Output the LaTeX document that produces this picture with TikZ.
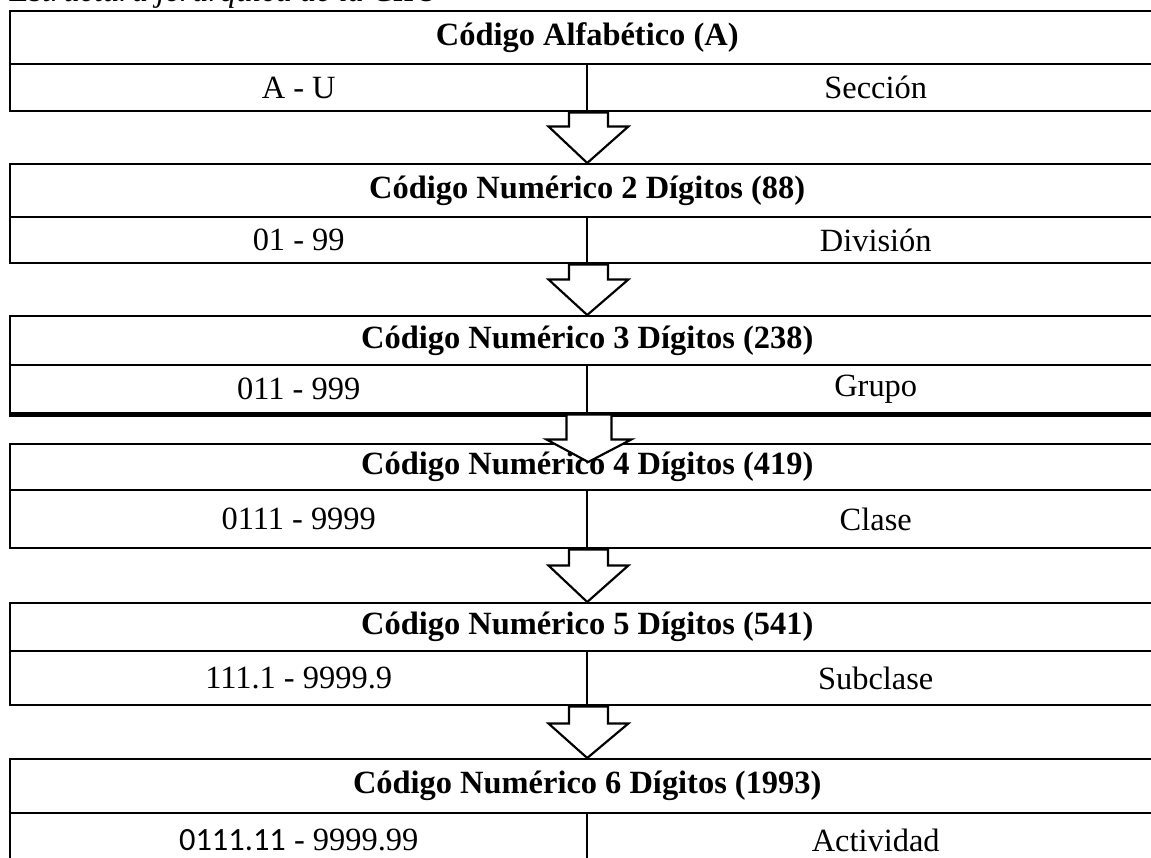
\documentclass[tikz,border=0pt]{standalone}
\usepackage{fontspec}
\setmainfont{Liberation Serif}
\newfontfamily\calibri{Carlito}
\usetikzlibrary{calc}
\newlength\pxu
\setlength\pxu{0.37pt}

\begin{document}
\begin{tikzpicture}[x=0.37pt, y=-0.37pt,
		every node/.style={font=\fontsize{12pt}{14pt}\selectfont, inner sep=0pt},
		titulo/.style={draw, line width=0.9pt, anchor=north west, minimum width=1154*\pxu, font=\fontsize{12pt}{14pt}\selectfont\bfseries},
		celda/.style={draw, line width=0.9pt, anchor=north west, minimum width=577*\pxu},
		flecha/.style={draw, fill=white, line width=0.8pt, line join=miter}]
				\useasboundingbox (0,0) rectangle (1151,857);

				\node[anchor=base west, font=\fontsize{12pt}{14pt}\selectfont\itshape] (encabezado) at (9,1.5) {Estructura jerárquica de la CIIU};

				% tabla 1
				\node[titulo, minimum height=53*\pxu] (tit1) at (9,10) {Código Alfabético (A)};
				\node[celda, minimum height=47*\pxu] (izq1) at (9,63) {A - U};
				\node[celda, minimum height=47*\pxu] (der1) at (586,63) {Sección};

				% tabla 2
				\node[titulo, minimum height=53*\pxu] (tit2) at (9,163) {Código Numérico 2 Dígitos (88)};
				\node[celda, minimum height=46*\pxu] (izq2) at (9,216) {01 - 99};
				\node[celda, minimum height=46*\pxu] (der2) at (586,216) {División};

				% tabla 3
				\node[titulo, minimum height=49*\pxu] (tit3) at (9,315) {Código Numérico 3 Dígitos (238)};
				\node[celda, minimum height=48*\pxu] (izq3) at (9,364) {011 - 999};
				\node[celda, minimum height=48*\pxu] (der3) at (586,364) {Grupo};
				\draw[line width=1.6pt] (izq3.south west) -- (der3.south east);

				% tabla 4
				\node[titulo, minimum height=46*\pxu] (tit4) at (9,443) {Código Numérico 4 Dígitos (419)};
				\node[celda, minimum height=58*\pxu] (izq4) at (9,489) {0111 - 9999};
				\node[celda, minimum height=58*\pxu] (der4) at (586,489) {Clase};

				% tabla 5
				\node[titulo, minimum height=48*\pxu] (tit5) at (9,602) {Código Numérico 5 Dígitos (541)};
				\node[celda, minimum height=54*\pxu] (izq5) at (9,650) {111.1 - 9999.9};
				\node[celda, minimum height=54*\pxu] (der5) at (586,650) {Subclase};

				% tabla 6
				\node[titulo, minimum height=54*\pxu] (tit6) at (9,758) {Código Numérico 6 Dígitos (1993)};
				\node[celda, minimum height=54*\pxu] (izq6) at (9,812) {{\calibri 0111.11} - 9999.99};
				\node[celda, minimum height=54*\pxu] (der6) at (586,812) {Actividad};

				% flechas
				\draw[flecha] ($(izq1.south east)+(-19.5,0)$) -- ++(0,14) -- ++(-20.5,0) -- (tit2.north) -- ($(izq1.south east)+(40,14)$) -- ++(-20.5,0) -- ($(izq1.south east)+(19.5,0)$) -- cycle;
				\draw[flecha] ($(izq2.south east)+(-19.5,0)$) -- ++(0,15) -- ++(-20.5,0) -- (tit3.north) -- ($(izq2.south east)+(40,15)$) -- ++(-20.5,0) -- ($(izq2.south east)+(19.5,0)$) -- cycle;
				\draw[flecha] ($(izq3.south east)+(-22,0)$) -- ++(0,25) -- ++(-20,0) -- ($(tit4.north)+(1,19)$) -- ($(izq3.south east)+(43,25)$) -- ++(-20,0) -- ($(izq3.south east)+(23,0)$) -- cycle;
				\draw[flecha] ($(izq4.south east)+(-19.5,0)$) -- ++(0,16) -- ++(-20.5,0) -- (tit5.north) -- ($(izq4.south east)+(40,16)$) -- ++(-20.5,0) -- ($(izq4.south east)+(19.5,0)$) -- cycle;
				\draw[flecha] ($(izq5.south east)+(-19.5,0)$) -- ++(0,17) -- ++(-20.5,0) -- (tit6.north) -- ($(izq5.south east)+(40,17)$) -- ++(-20.5,0) -- ($(izq5.south east)+(19.5,0)$) -- cycle;
\end{tikzpicture}
\end{document}
